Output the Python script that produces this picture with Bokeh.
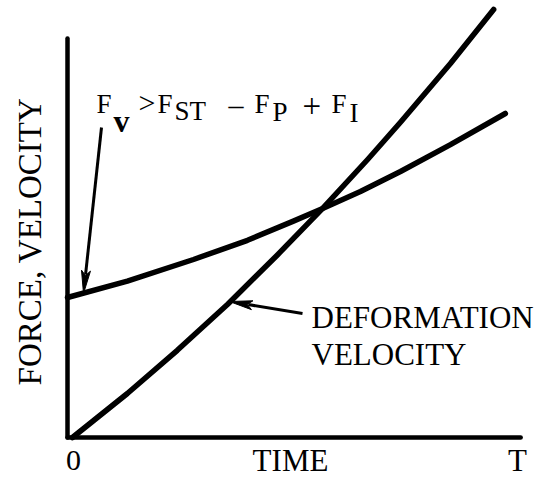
import math
from bokeh.plotting import figure
from bokeh.models import Range1d
from bokeh.core.properties import value
from bokeh.embed import file_html
from bokeh.resources import INLINE

# ---- data (time in units of T) ----
force_time = [0.0, 0.133, 0.28, 0.40, 0.502, 0.567, 0.651, 0.74, 0.851, 0.973]
force_vals = [0.35, 0.391, 0.445, 0.493, 0.541, 0.5725, 0.615, 0.665, 0.732, 0.81]

defvel_time = [0.011, 0.133, 0.244, 0.356, 0.467, 0.567, 0.667, 0.74, 0.851, 0.947]
defvel_vals = [0.0, 0.11, 0.218, 0.333, 0.457, 0.573, 0.695, 0.788, 0.935, 1.07]

axis_time_end = 1.007
axis_val_end = 0.9975

x_label = "TIME"
y_label = "FORCE, VELOCITY"
origin_label = "0"
end_label = "T"
curve_label = ["DEFORMATION", "VELOCITY"]

# ---- layout ----
W, H = 550, 479
X0 = -67 / 450.0
X1 = X0 + W / 450.0
Y1 = 437 / 400.0
Y0 = Y1 - H / 400.0
SHIFT = 10  # alphabetic-baseline correction (px)

def tx(px):  # page pixel x -> time units
    return (px - 67) / 450.0

def vy(py):  # page pixel y -> value units
    return (437 - py) / 400.0

def vb(py):  # baseline y for text
    return vy(py - SHIFT)

p = figure(width=W, height=H, x_range=Range1d(X0, X1), y_range=Range1d(Y0, Y1),
           x_axis_type=None, y_axis_type=None, toolbar_location=None,
           output_backend="svg", min_border=0)
p.outline_line_color = None
p.grid.visible = False
p.background_fill_color = "white"
p.border_fill_color = "white"

ink = "#000000"
FONT = value("Liberation Serif")

# axes
p.segment(x0=[0, 0], y0=[0, 0], x1=[0, axis_time_end], y1=[axis_val_end, 0],
          line_color=ink, line_width=4.5, line_cap="round")

# curves
p.line(force_time, force_vals, line_color=ink, line_width=5.5, line_cap="round", line_join="round")
p.line(defvel_time, defvel_vals, line_color=ink, line_width=5.5, line_cap="round", line_join="round")

# arrows
def arrow(tail, tip, L=23, Wd=4.5):
    (ax, ay), (bx, by) = tail, tip
    dx, dy = bx - ax, by - ay
    n = math.hypot(dx, dy)
    ux, uy = dx / n, dy / n
    basex, basey = bx - ux * L, by - uy * L
    nx, ny = -uy, ux
    p.segment(x0=[tx(ax)], y0=[vy(ay)], x1=[tx(basex + ux * 4)], y1=[vy(basey + uy * 4)],
              line_color=ink, line_width=3)
    xs = [tx(bx), tx(basex + nx * Wd), tx(basex + ux * 5), tx(basex - nx * Wd)]
    ys = [vy(by), vy(basey + ny * Wd), vy(basey + uy * 5), vy(basey - ny * Wd)]
    p.patch(xs, ys, fill_color=ink, line_color=ink, line_width=1)

arrow((101, 127), (83, 293))
arrow((302, 313), (229, 301))

# labels
p.text(x=[tx(29)], y=[vy(241)], text=[y_label], angle=math.pi / 2,
       text_font=FONT, text_font_size="33px", text_align="center",
       text_baseline="middle", text_color=ink)
p.text(x=[tx(73)], y=[vb(470)], text=[origin_label], text_font=FONT, text_font_size="30px",
       text_align="center", text_baseline="alphabetic", text_color=ink)
p.text(x=[tx(290)], y=[vb(470)], text=[x_label], text_font=FONT, text_font_size="31px",
       text_align="center", text_baseline="alphabetic", text_color=ink)
p.text(x=[tx(517)], y=[vb(470)], text=[end_label], text_font=FONT, text_font_size="31px",
       text_align="center", text_baseline="alphabetic", text_color=ink)
p.text(x=[tx(311), tx(311)], y=[vb(327), vb(364)], text=curve_label, text_font=FONT,
       text_font_size="31px", text_align="left", text_baseline="alphabetic", text_color=ink)

# formula  F_v > F_ST - F_P + F_I
def piece(px_, py_, s, size, bold=False):
    p.text(x=[tx(px_)], y=[vb(py_)], text=[s], text_font=FONT, text_font_size=size,
           text_font_style="bold" if bold else "normal",
           text_align="left", text_baseline="alphabetic", text_color=ink)

piece(96, 113, "F", "27px")
piece(113, 130, "v", "32px", bold=True)
piece(138, 112, ">", "30px")
piece(157, 113, "F", "27px")
piece(174, 120, "ST", "27px")
piece(228, 114, "–", "30px")
piece(254, 113, "F", "27px")
piece(272, 121, "P", "27px")
piece(302, 115, "+", "33px")
piece(331, 113, "F", "27px")
piece(349, 122, "I", "27px")

open("out.html", "w").write(file_html(p, INLINE))
